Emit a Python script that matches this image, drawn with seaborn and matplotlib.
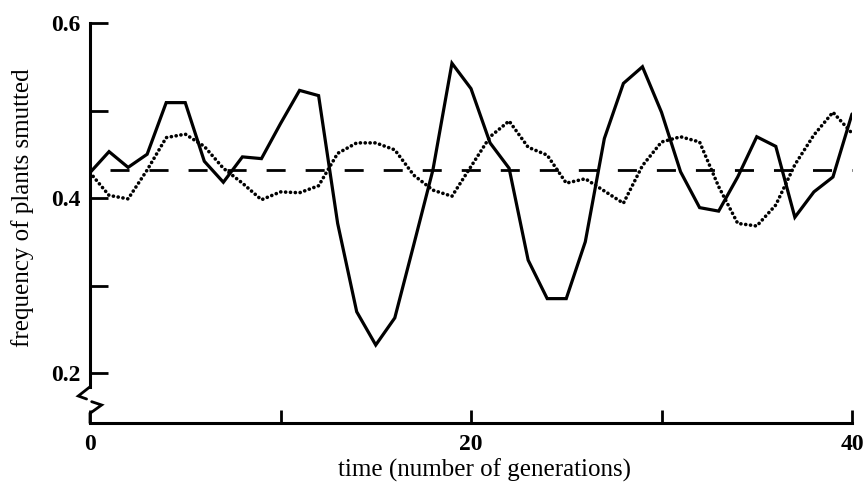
import matplotlib
matplotlib.use("Agg")
import matplotlib.pyplot as plt
import seaborn as sns
import pandas as pd

generations = list(range(41))
smutted_solid = [0.429, 0.453, 0.435, 0.450, 0.509, 0.509, 0.442, 0.418, 0.447, 0.445,
                 0.485, 0.523, 0.517, 0.371, 0.270, 0.232, 0.263, 0.347, 0.432, 0.554,
                 0.525, 0.463, 0.434, 0.329, 0.285, 0.285, 0.350, 0.468, 0.531, 0.550,
                 0.498, 0.430, 0.389, 0.385, 0.424, 0.470, 0.459, 0.378, 0.407, 0.424,
                 0.496]
smutted_dotted = [0.429, 0.403, 0.399, 0.432, 0.469, 0.473, 0.459, 0.434, 0.417, 0.398,
                  0.407, 0.406, 0.414, 0.451, 0.463, 0.463, 0.455, 0.426, 0.409, 0.402,
                  0.436, 0.470, 0.488, 0.458, 0.449, 0.417, 0.422, 0.408, 0.394, 0.437,
                  0.464, 0.470, 0.464, 0.413, 0.371, 0.368, 0.392, 0.438, 0.472, 0.498,
                  0.474]
equilibrium_x = [0, 40]
equilibrium_y = [0.432, 0.432]

x_ticks = [0, 10, 20, 30, 40]
x_ticklabels = ["0", "", "20", "", "40"]
y_ticks = [0.2, 0.3, 0.4, 0.5, 0.6]
y_ticklabels = ["0.2", "", "0.4", "", "0.6"]

sns.set_theme(style="white")
plt.rcParams["font.family"] = ["Liberation Serif", "DejaVu Serif"]
plt.rcParams["lines.scale_dashes"] = False
plt.rcParams["text.color"] = "black"
plt.rcParams["axes.labelcolor"] = "black"
plt.rcParams["xtick.color"] = "black"
plt.rcParams["ytick.color"] = "black"

df = pd.DataFrame({"t": generations, "solid": smutted_solid, "dotted": smutted_dotted})
eq = pd.DataFrame({"t": equilibrium_x, "eq": equilibrium_y})

fig = plt.figure(figsize=(8.64, 4.87), dpi=100)
W, H = 864, 487
ax = fig.add_axes([90 / W, 1 - 423 / H, (852 - 90) / W, (423 - 23) / H])

sns.lineplot(data=eq, x="t", y="eq", ax=ax, color="black", linewidth=2.0,
             linestyle=(13.7, (13.7, 14.4)), clip_on=False)
sns.lineplot(data=df, x="t", y="dotted", ax=ax, color="black", linewidth=2.6,
             linestyle=(0, (0.1, 3.4)), dash_capstyle="round", solid_capstyle="round")
sns.lineplot(data=df, x="t", y="solid", ax=ax, color="black", linewidth=2.3,
             solid_joinstyle="miter")

ax.set_xlim(0, 40)
ax.set_ylim(0.6 - 400 / 875, 0.6)

for s in ["top", "right"]:
    ax.spines[s].set_visible(False)
for s in ["left", "bottom"]:
    ax.spines[s].set_linewidth(2.2)
    ax.spines[s].set_color("black")
ax.spines["left"].set_bounds(0.184, 0.6)
ax.spines["left"].set_capstyle("projecting")

# axis break zigzag
ax.plot([0, -0.0154, -0.0045], [0.0905, 0.0675, 0.06], transform=ax.transAxes,
        color="black", lw=2.0, clip_on=False, solid_joinstyle="miter")
ax.plot([0.0022, 0.0153, 0.0, 0.0], [0.0533, 0.045, 0.0242, 0.0], transform=ax.transAxes,
        color="black", lw=2.0, clip_on=False, solid_joinstyle="miter")

ax.set_xticks(x_ticks)
ax.set_xticklabels(x_ticklabels, fontsize=17, fontweight="bold", color="black")
ax.set_yticks(y_ticks)
ax.set_yticklabels(y_ticklabels, fontsize=17, fontweight="bold", color="black")
ax.tick_params(axis="x", direction="in", length=9.5, width=2, color="black", pad=8, bottom=True)
ax.tick_params(axis="y", direction="in", length=13, width=2, color="black", pad=7, left=True)

ax.set_xlabel("time (number of generations)", fontsize=18, color="black")
ax.set_ylabel("frequency of plants smutted", fontsize=18, color="black")
ax.xaxis.set_label_coords(0.518, -0.09)
ax.yaxis.set_label_coords(-0.073, 0.5375)
ax.grid(False)

fig.savefig("out.png", dpi=100)
